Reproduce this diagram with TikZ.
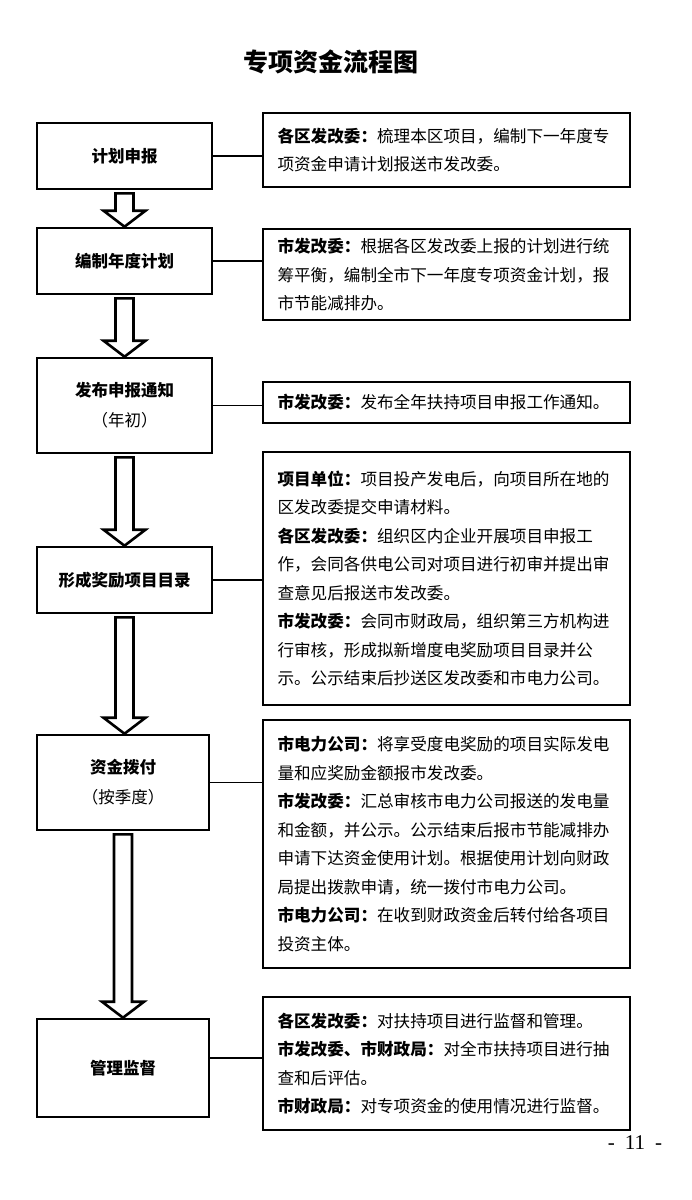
\documentclass[tikz,border=0pt]{standalone}
\usepackage{fontspec}
\setmainfont{Noto Sans CJK SC}
\newfontfamily\pagefont{Liberation Serif}
\usetikzlibrary{calc}

\tikzset{
  stepnode/.style={draw, line width=2.6pt, align=center, font=\fontsize{16.5}{30}\selectfont},
  notebox/.style={draw, line width=2.6pt, text width=338pt, inner xsep=14.5pt, align=left,
    minimum height=#1, font=\fontsize{16.6}{28.5}\selectfont},
  linkline/.style={line width=1.6pt},
  arrowline/.style={line width=2.6pt, line join=miter},
}

% 空心箭头
\newcommand{\hollowarrow}[2]{%
  \draw[arrowline] let \p1=(#1.south), \p2=(#2.north) in
    (\x1-9pt,\y1-3pt) -- (\x1-9pt,\y2+16pt) -- (\x1-21pt,\y2+16pt) -- (\x1,\y2)
    -- (\x1+21pt,\y2+16pt) -- (\x1+9pt,\y2+16pt) -- (\x1+9pt,\y1-3pt) -- cycle;}

\begin{document}
\begin{tikzpicture}[x=1pt, y=-1pt]
\useasboundingbox (0,0) rectangle (692,1200);
% 标题
\node (title) at (331,62) {\fontsize{25}{25}\selectfont\bfseries 专项资金流程图};
% 左侧流程框
\node[stepnode, minimum width=175pt, minimum height=66pt] (plan) at (124.5,156) {\bfseries 计划申报};
\node[stepnode, minimum width=175pt, minimum height=66pt] (annual) at (124.5,261) {\bfseries 编制年度计划};
\node[stepnode, minimum width=175pt, minimum height=95pt] (notice) at (124.5,405.5) {{\bfseries 发布申报通知}\\（年初）};
\node[stepnode, minimum width=175pt, minimum height=66pt] (catalog) at (124.5,580) {\bfseries 形成奖励项目目录};
\node[stepnode, minimum width=172pt, minimum height=95pt] (payment) at (123,782.5) {{\bfseries 资金拨付}\\（按季度）};
\node[stepnode, minimum width=172pt, minimum height=98pt] (supervise) at (123,1068) {\bfseries 管理监督};
% 箭头
\hollowarrow{plan}{annual}
\hollowarrow{annual}{notice}
\hollowarrow{notice}{catalog}
\hollowarrow{catalog}{payment}
\hollowarrow{payment}{supervise}
% 右侧说明
\node[notebox=74pt] (plannote) at (446.5,150)
  {\textbf{各区发改委：}梳理本区项目，编制下一年度专\\项资金申请计划报送市发改委。};
\node[notebox=91pt] (annualnote) at (446.5,274.5)
  {\textbf{市发改委：}根据各区发改委上报的计划进行统\\筹平衡，编制全市下一年度专项资金计划，报\\市节能减排办。};
\node[notebox=41pt] (noticenote) at (446.5,402.5)
  {\textbf{市发改委：}发布全年扶持项目申报工作通知。};
\node[notebox=253pt] (catalognote) at (446.5,578.5)
  {\textbf{项目单位：}项目投产发电后，向项目所在地的\\区发改委提交申请材料。\\
   \textbf{各区发改委：}组织区内企业开展项目申报工\\作，会同各供电公司对项目进行初审并提出审\\查意见后报送市发改委。\\
   \textbf{市发改委：}会同市财政局，组织第三方机构进\\行审核，形成拟新增度电奖励项目目录并公\\示。公示结束后抄送区发改委和市电力公司。};
\node[notebox=248pt] (paymentnote) at (446.5,844)
  {\textbf{市电力公司：}将享受度电奖励的项目实际发电\\量和应奖励金额报市发改委。\\
   \textbf{市发改委：}汇总审核市电力公司报送的发电量\\和金额，并公示。公示结束后报市节能减排办\\申请下达资金使用计划。根据使用计划向财政\\局提出拨款申请，统一拨付市电力公司。\\
   \textbf{市电力公司：}在收到财政资金后转付给各项目\\投资主体。};
\node[notebox=133pt] (supervisenote) at (446.5,1063.5)
  {\textbf{各区发改委：}对扶持项目进行监督和管理。\\
   \textbf{市发改委、市财政局：}对全市扶持项目进行抽\\查和后评估。\\
   \textbf{市财政局：}对专项资金的使用情况进行监督。};
% 连线
\draw[linkline] (plan.east) -- (plan.east -| plannote.west);
\draw[linkline] (annual.east) -- (annual.east -| annualnote.west);
\draw[linkline] (notice.east) -- (notice.east -| noticenote.west);
\draw[linkline] (catalog.east) -- (catalog.east -| catalognote.west);
\draw[linkline] (payment.east) -- (payment.east -| paymentnote.west);
\draw[linkline] ([yshift=10pt]supervise.east) -- ([yshift=10pt]supervise.east -| supervisenote.west);
% 页码
\node[font=\pagefont\fontsize{21}{21}\selectfont] (pageno) at (635,1143) {-\hspace{10pt}11\hspace{10pt}-};
\end{tikzpicture}
\end{document}
